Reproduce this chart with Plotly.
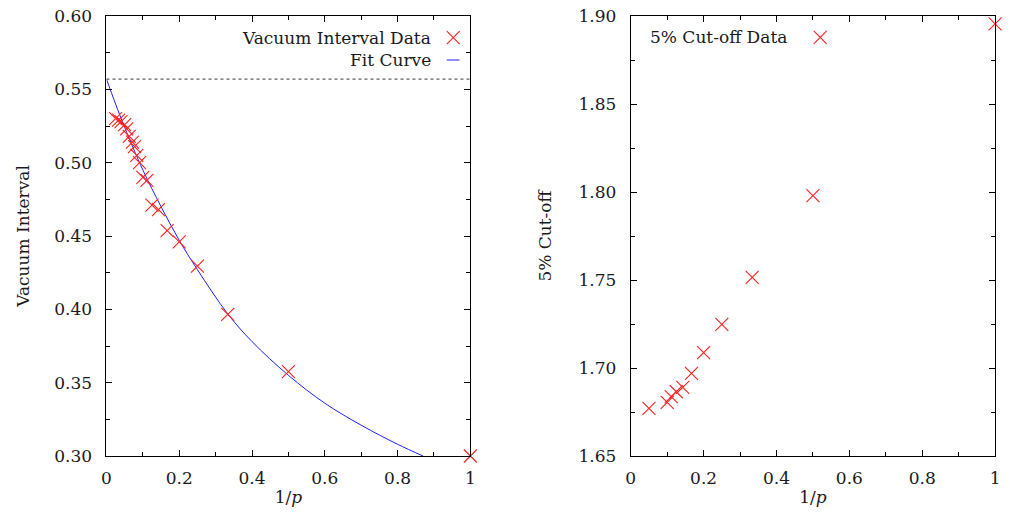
import plotly.graph_objects as go

# ---- data ----
p_left = [1, 2, 3, 4, 5, 6, 7, 8, 9, 10, 11, 12, 13, 14, 16, 18, 20, 25, 30, 40]
vacuum_interval = [0.300, 0.3575, 0.3966, 0.4295, 0.446, 0.4536, 0.468, 0.471,
                   0.488, 0.490, 0.500, 0.505, 0.511, 0.514, 0.518, 0.523,
                   0.526, 0.528, 0.529, 0.530]
inv_p_left = [1.0 / p for p in p_left]

fit_x = [0.0, 0.025, 0.05, 0.1, 0.15, 0.2, 0.25, 0.333, 0.4, 0.5, 0.6, 0.7, 0.8, 0.87]
fit_y = [0.557, 0.540, 0.524, 0.495, 0.470, 0.447, 0.427, 0.397, 0.378, 0.355, 0.336, 0.321, 0.308, 0.300]

asymptote_x = [0.0, 1.0]
asymptote_y = [0.557, 0.557]

p_right = [1, 2, 3, 4, 5, 6, 7, 8, 9, 10, 20]
cutoff_5pct = [1.8955, 1.798, 1.7515, 1.7248, 1.7087, 1.697, 1.689, 1.6865, 1.6837, 1.6805, 1.677]
inv_p_right = [1.0 / p for p in p_right]

FONT = "DejaVu Serif"
RED = "#ff2020"
BLUE = "#1f1fff"
TXT = "#1a1a1a"

fig = go.Figure()

fig.add_trace(go.Scatter(x=asymptote_x, y=asymptote_y, mode="lines",
                         line=dict(color="#606060", width=1.2, dash="dot"),
                         xaxis="x", yaxis="y", showlegend=False, hoverinfo="skip"))
fig.add_trace(go.Scatter(x=fit_x, y=fit_y, mode="lines", line_shape="spline",
                         line=dict(color=BLUE, width=1),
                         xaxis="x", yaxis="y", showlegend=False))
mk = dict(symbol="x-thin-open", size=13, color=RED, line=dict(color=RED, width=1.1))
fig.add_trace(go.Scatter(x=inv_p_left, y=vacuum_interval, mode="markers",
                         marker=mk, cliponaxis=False,
                         xaxis="x", yaxis="y", showlegend=False))
fig.add_trace(go.Scatter(x=inv_p_right, y=cutoff_5pct, mode="markers",
                         marker=mk, cliponaxis=False,
                         xaxis="x2", yaxis="y2", showlegend=False))

W, H = 1010, 519
axis_common = dict(
    showline=True, linecolor="black", linewidth=1, mirror="allticks",
    ticks="inside", ticklen=6, tickcolor="black", showgrid=False, zeroline=False,
    tickfont=dict(family=FONT, size=17, color=TXT),
)
title_font = dict(family=FONT, size=17, color=TXT)
xcommon = dict(axis_common, range=[0, 1], tickvals=[0, 0.2, 0.4, 0.6, 0.8, 1],
               ticktext=["0", "0.2", "0.4", "0.6", "0.8", "1"], ticklabelstandoff=7,
               minor=dict(ticks="inside", ticklen=4, tickvals=[0.1, 0.3, 0.5, 0.7, 0.9],
                          tickcolor="black"),
               title=dict(text="1/<i>p</i>", font=title_font, standoff=3))

fig.update_layout(
    width=W, height=H,
    margin=dict(l=0, r=0, t=16, b=63),
    paper_bgcolor="white", plot_bgcolor="white",
    xaxis=dict(xcommon, domain=[102.5 / W, 470 / W], anchor="y"),
    yaxis=dict(axis_common, range=[0.30, 0.60], anchor="x", ticklabelstandoff=10,
               tickvals=[0.30, 0.35, 0.40, 0.45, 0.50, 0.55, 0.60],
               ticktext=["0.30", "0.35", "0.40", "0.45", "0.50", "0.55", "0.60"],
               minor=dict(ticks="inside", ticklen=4,
                          tickvals=[0.325, 0.375, 0.425, 0.475, 0.525, 0.575],
                          tickcolor="black"),
               title=dict(text="Vacuum Interval", font=title_font, standoff=20)),
    xaxis2=dict(xcommon, domain=[632 / W, 1000 / W], anchor="y2"),
    yaxis2=dict(axis_common, range=[1.65, 1.90], anchor="x2", ticklabelstandoff=10,
                tickvals=[1.65, 1.70, 1.75, 1.80, 1.85, 1.90],
                ticktext=["1.65", "1.70", "1.75", "1.80", "1.85", "1.90"],
                minor=dict(ticks="inside", ticklen=4,
                           tickvals=[1.675, 1.725, 1.775, 1.825, 1.875],
                           tickcolor="black"),
                title=dict(text="5% Cut-off", font=title_font, standoff=22)),
)

# ---- legends drawn as text + key marks (key on the right, gnuplot style) ----
leg_font = dict(family=FONT, size=17, color=TXT)
fig.add_annotation(xref="x domain", yref="y domain", x=0.893, y=0.9507,
                   text="Vacuum Interval Data", showarrow=False, xanchor="right",
                   yanchor="middle", font=leg_font, xshift=2)
fig.add_annotation(xref="x domain", yref="y domain", x=0.893, y=0.90,
                   text="Fit Curve", showarrow=False, xanchor="right",
                   yanchor="middle", font=leg_font, xshift=2)
fig.add_annotation(xref="x2 domain", yref="y2 domain", x=0.0535, y=0.9516,
                   text="5% Cut-off Data", showarrow=False, xanchor="left",
                   yanchor="middle", font=leg_font, xshift=-2)


def key_cross(xr, yr, cx, cy):
    dx = 6.5 / 368
    dy = 6.5 / 440
    for b in (-1, 1):
        fig.add_shape(type="line", xref=xr, yref=yr,
                      x0=cx - dx, y0=cy + b * dy, x1=cx + dx, y1=cy - b * dy,
                      line=dict(color=RED, width=1.1))


key_cross("x domain", "y domain", 0.953, 0.9507)
fig.add_shape(type="line", xref="x domain", yref="y domain",
              x0=0.935, x1=0.970, y0=0.90, y1=0.90, line=dict(color=BLUE, width=1))
key_cross("x2 domain", "y2 domain", 0.52, 0.9516)

fig.write_html("out.html")
